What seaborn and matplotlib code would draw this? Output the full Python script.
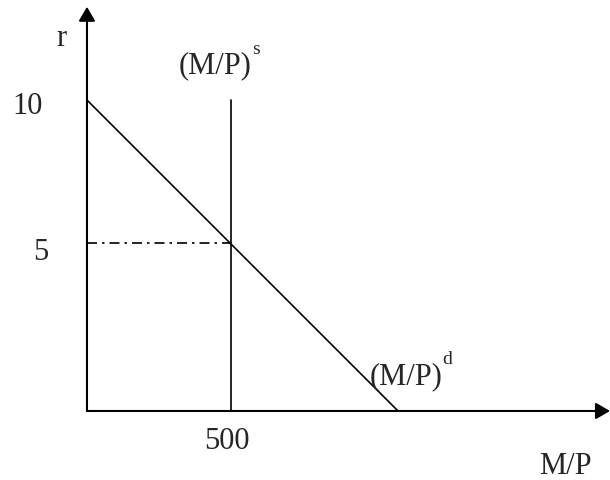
import matplotlib
matplotlib.use("Agg")
import matplotlib.pyplot as plt
import seaborn as sns

# Money market: demand and fixed supply of real balances
demand_mp = [0, 1080]      # M/P
demand_r = [10, 0]         # interest rate r
supply_mp = [500, 500]
supply_r = [0, 10]
eq_mp = [0, 500]           # dash-dot guide to the equilibrium
eq_r = [5.4, 5.4]

tick_r = [10, 5]
tick_mp = [500]

sns.set_theme(style="white")
plt.rcParams['font.family'] = ['Liberation Serif', 'DejaVu Serif']

fig = plt.figure(figsize=(6.1, 4.81), dpi=100)
ax = fig.add_axes([0, 0, 1, 1])
ax.set_xlim(-302, 1816)
ax.set_ylim(-2.22, 13.25)
ax.axis('off')

# axes with arrows
arrow = dict(arrowstyle='-|>,head_length=0.43,head_width=0.25', lw=1.5,
             color='black', shrinkA=0, shrinkB=0, mutation_scale=20)
ax.annotate('', xy=(1816, 0), xytext=(0, 0), arrowprops=arrow)
ax.annotate('', xy=(0, 13.0), xytext=(0, 0), arrowprops=arrow)

sns.lineplot(x=demand_mp, y=demand_r, color='black', lw=1.2, ax=ax,
             estimator=None, sort=False)
sns.lineplot(x=supply_mp, y=supply_r, color='black', lw=1.2, ax=ax,
             estimator=None, sort=False)
sns.lineplot(x=eq_mp, y=eq_r, color='black', lw=1.2, ax=ax,
             estimator=None, sort=False, linestyle=(0, (6, 3, 1.5, 3)))

fs = 22
ax.text(-208, 9.84, str(tick_r[0]), fontsize=fs, ha='center', va='center')
ax.text(-160, 5.14, str(tick_r[1]), fontsize=fs, ha='center', va='center')
ax.text(486, -0.96, str(tick_mp[0]), fontsize=fs, ha='center', va='center')
ax.text(-87, 12.0, 'r', fontsize=fs, ha='center', va='center')
ax.text(1663, -1.74, 'M/P', fontsize=fs, ha='center', va='center')

# curve labels with superscripts
ax.text(444, 10.9, '(M/P)', fontsize=fs, ha='center', va='baseline')
ax.text(572, 11.5, 's', fontsize=14, ha='left', va='baseline')
ax.text(1108, 0.9, '(M/P)', fontsize=fs, ha='center', va='baseline')
ax.text(1234, 1.55, 'd', fontsize=14, ha='left', va='baseline')

fig.savefig('out.png', dpi=100)
